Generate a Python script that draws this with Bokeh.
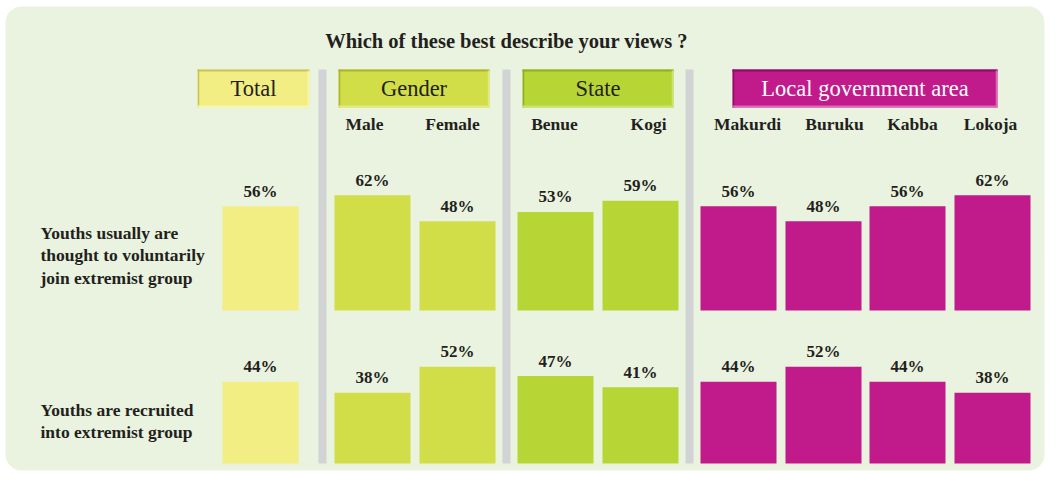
from bokeh.plotting import figure
from bokeh.models import Range1d, ColumnDataSource, BoxAnnotation
from bokeh.core.properties import value
from bokeh.embed import file_html
from bokeh.resources import INLINE

# ---------------- data ----------------
title = "Which of these best describe your views ?"
groups = ["Total", "Gender", "State", "Local government area"]
categories = ["Total", "Male", "Female", "Benue", "Kogi",
              "Makurdi", "Buruku", "Kabba", "Lokoja"]
cat_group = [0, 1, 1, 2, 2, 3, 3, 3, 3]
voluntary = [56, 62, 48, 53, 59, 56, 48, 56, 62]
recruited = [44, 38, 52, 47, 41, 44, 52, 44, 38]
row_labels = ["Youths usually are\nthought to voluntarily\njoin extremist group",
              "Youths are recruited\ninto extremist group"]

# ---------------- styling / layout ----------------
FONT = value("Liberation Serif")
TXT = "#231f20"
BG = "#eaf3df"
SEP = "#d1d3d4"
group_colors = ["#f2ee84", "#d1de48", "#b7d535", "#c11b8b"]
group_dark = ["#c8c25a", "#a9b52e", "#93ad22", "#8d0d64"]
group_light = ["#f8f6b4", "#e0ea84", "#cde274", "#dc6cb6"]
group_text = [TXT, TXT, TXT, "#ffffff"]

W, H = 1046, 471
PX = 1.86            # pixels per percentage point
BASE2 = 463          # pixel y of the lower row's baseline
BASE1_S = 310        # pixel y of the upper row's baseline
TSHIFT = 8           # text baseline correction (px)


def Y(sy):
    return (BASE2 - sy) / PX


def TY(sy):
    return Y(sy - TSHIFT)


bar_x = [260, 372, 457, 555, 640, 738, 823, 907, 992]
sub_label_x = [364, 452, 554, 648, 747, 834, 912, 990]
bar_w = 76
header_spans = [(197, 309), (338, 489), (522, 673), (732, 997)]
sep_spans = [(318, 326), (502, 510), (685, 693)]

p = figure(width=W, height=H, output_backend="svg", toolbar_location=None,
           x_range=Range1d(0, W), y_range=Range1d(Y(H), Y(0)),
           x_axis_location=None, y_axis_location=None,
           min_border=0, min_border_left=0, min_border_right=0,
           min_border_top=0, min_border_bottom=0)
p.outline_line_color = None
p.grid.visible = False
p.background_fill_color = "white"
p.border_fill_color = "white"

p.add_layout(BoxAnnotation(left=5, right=W - 2, top=Y(6), bottom=Y(H - 1),
                           border_radius=16, fill_color=BG, fill_alpha=1,
                           line_color=None, level="underlay"))

# separators
p.quad(left=[a for a, b in sep_spans], right=[b for a, b in sep_spans],
       top=Y(69), bottom=Y(BASE2), fill_color=SEP, line_color=None)

# header boxes
hl = [a for a, b in header_spans]
hr = [b for a, b in header_spans]
p.quad(left=hl, right=hr, top=Y(69), bottom=Y(107),
       fill_color=group_colors, line_color=None)
p.segment(x0=hl, x1=hr, y0=Y(70), y1=Y(70), line_color=group_dark, line_width=2)
p.segment(x0=[a + 1 for a in hl], x1=[a + 1 for a in hl], y0=Y(69), y1=Y(107),
          line_color=group_dark, line_width=1.5)
p.segment(x0=hl, x1=hr, y0=Y(106), y1=Y(106), line_color=group_light, line_width=2)
p.segment(x0=[b - 1 for b in hr], x1=[b - 1 for b in hr], y0=Y(70), y1=Y(107),
          line_color=group_light, line_width=1.5)
p.text(x=[(a + b) / 2 for a, b in header_spans], y=TY(96), text=groups,
       text_color=group_text, text_font=FONT, text_font_size="22.5px",
       text_align="center", text_baseline="alphabetic")

# title
p.text(x=[506], y=[TY(48)], text=[title], text_color=TXT, text_font=FONT,
       text_font_style="bold", text_font_size="20.5px",
       text_align="center", text_baseline="alphabetic")

# sub labels
p.text(x=sub_label_x, y=TY(131), text=categories[1:], text_color=TXT,
       text_font=FONT, text_font_style="bold", text_font_size="17.5px",
       text_align="center", text_baseline="alphabetic")

# bars
colors = [group_colors[g] for g in cat_group]
b1 = Y(BASE1_S)
lab_gap = (7 + TSHIFT) / PX
src = ColumnDataSource(dict(
    x=bar_x, color=colors,
    top1=[b1 + v for v in voluntary],
    top2=[v for v in recruited],
    ly1=[b1 + v + lab_gap for v in voluntary],
    ly2=[v + lab_gap for v in recruited],
    lab1=[f"{v}%" for v in voluntary], lab2=[f"{v}%" for v in recruited],
))
p.vbar(x="x", width=bar_w, bottom=b1, top="top1", fill_color="color",
       line_color=None, source=src)
p.vbar(x="x", width=bar_w, bottom=0, top="top2", fill_color="color",
       line_color=None, source=src)
for ly, lab in (("ly1", "lab1"), ("ly2", "lab2")):
    p.text(x="x", y=ly, text=lab, source=src,
           text_color=TXT, text_font=FONT, text_font_style="bold",
           text_font_size="17px", text_align="center",
           text_baseline="alphabetic")

# row labels
row_first_baseline = [240, 417]
line_gap = 22.5
lx, ly, lt = [], [], []
for lab, fb in zip(row_labels, row_first_baseline):
    for i, line in enumerate(lab.split("\n")):
        lx.append(40)
        ly.append(TY(fb + i * line_gap))
        lt.append(line)
p.text(x=lx, y=ly, text=lt, text_color=TXT, text_font=FONT,
       text_font_style="bold", text_font_size="17.5px",
       text_align="left", text_baseline="alphabetic")

open("out.html", "w").write(file_html(p, INLINE))
